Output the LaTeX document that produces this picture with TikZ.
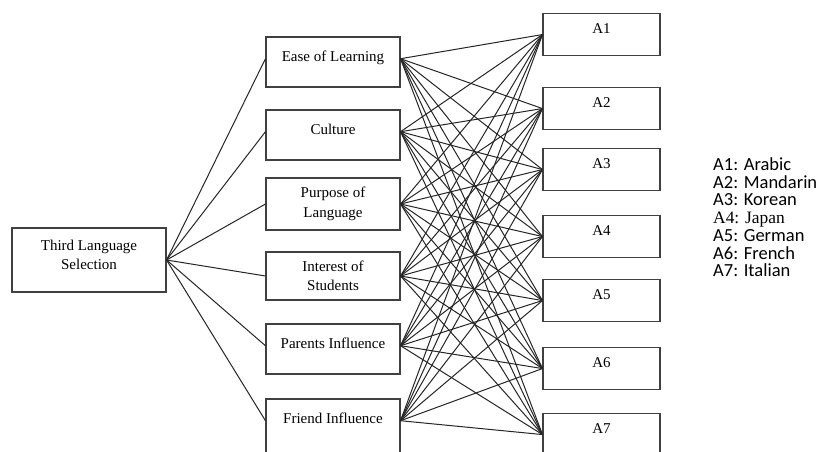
\documentclass[tikz,border=0pt]{standalone}
\usepackage{fontspec}
\setmainfont{Liberation Serif}
\newfontfamily\legsans{Carlito}
\newcommand{\legserif}{\fontspec{Liberation Serif}\fontsize{17.4}{20}\selectfont}

\begin{document}
\begin{tikzpicture}[x=1pt, y=-1pt,
  box/.style={draw=black!75, line width=1.1pt, fill=white, inner sep=0pt,
              font=\fontsize{15}{19.5}\selectfont, align=center},
  crit/.style={box, minimum width=134pt},
  crit1/.style={crit, text height=24pt, text depth=26pt, anchor=base},
  alt/.style={box, minimum width=117pt, text height=20pt, text depth=22pt, anchor=north},
  link/.style={draw=black!85, line width=1pt},
  legtxt/.style={anchor=base west, inner sep=0pt, font=\legsans\fontsize{18.5}{20}\selectfont}]
\clip (0,0) rectangle (821,451);
\fill[white] (0,0) rectangle (821,451);
% goal
\node[box, minimum width=154pt, minimum height=64pt] (tls) at (89,260) {Third Language\\Selection\\[-9.5pt]};
% criteria
\node[crit1] (ease) at (333,61) {Ease of Learning};
\node[crit1] (cult) at (333,134) {Culture};
\node[crit, minimum height=52pt] (purp) at (333,204) {Purpose of\\Language};
\node[crit, minimum height=48pt] (intr) at (333,276) {Interest of\\Students};
\node[crit1] (pare) at (333,348) {Parents Influence};
\node[crit1, text depth=32pt] (frnd) at (333,423) {Friend Influence};
% alternatives
\foreach \i/\y in {1/13, 2/87, 3/148, 4/215, 5/279, 6/347, 7/413}
  {\node[alt] (a\i) at (601.5,\y) {A\i};}
% links
\foreach \c/\w/\e in {ease/mid west/mid east, cult/mid west/mid east, purp/west/east,
                      intr/west/east, pare/mid west/mid east, frnd/mid west/mid east}{
  \draw[link] (tls.east) -- (\c.\w);
  \foreach \i in {1,...,7}
    {\draw[link] (\c.\e) -- (a\i.west);}
}
% legend
\foreach \i/\t in {1/Arabic, 2/Mandarin, 3/Korean, 5/German, 6/French, 7/Italian}
  {\node[legtxt] (leg\i) at (713,152.8+17.7*\i) {A\i: \t};}
\node[legtxt, font=\legserif] (leg4) at (713,152.8+17.7*4) {A4: Japan};
\end{tikzpicture}
\end{document}
